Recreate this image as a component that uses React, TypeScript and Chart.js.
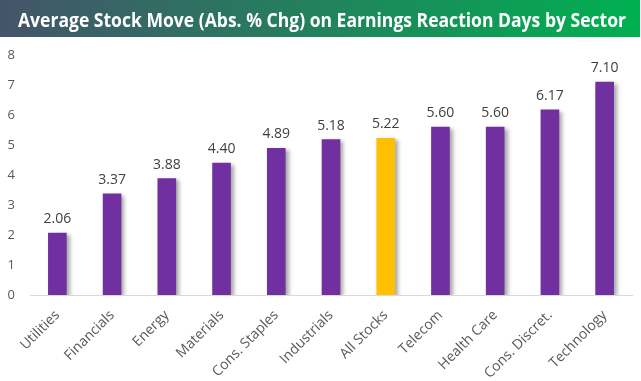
import React, { useEffect, useRef } from "react";
import { Chart, registerables } from "chart.js";
Chart.register(...registerables);

const titleText = "Average Stock Move (Abs. % Chg) on Earnings Reaction Days by Sector";
const categories = [
  "Utilities",
  "Financials",
  "Energy",
  "Materials",
  "Cons. Staples",
  "Industrials",
  "All Stocks",
  "Telecom",
  "Health Care",
  "Cons. Discret.",
  "Technology",
];
const avgMove = [2.06, 3.37, 3.88, 4.4, 4.89, 5.18, 5.22, 5.6, 5.6, 6.17, 7.1];
const yTicks = [0, 1, 2, 3, 4, 5, 6, 7, 8];
const highlightCategory = "All Stocks";

const PURPLE = "#7030A0";
const GOLD = "#FFC000";
const FONT = "'Open Sans', 'DejaVu Sans', sans-serif";

const titlePlugin = {
  id: "bannerTitle",
  beforeDraw(chart: any) {
    const ctx = chart.ctx as CanvasRenderingContext2D;
    ctx.save();
    const g = ctx.createLinearGradient(0, 0, 640, 0);
    g.addColorStop(0, "#44546A");
    g.addColorStop(1, "#00B050");
    ctx.fillStyle = g;
    ctx.fillRect(0, 0, 640, 37);
    ctx.font = `bold 19px ${FONT}`;
    const w = ctx.measureText(titleText).width;
    const target = 608;
    const sx = target / w;
    ctx.fillStyle = "#FFFFFF";
    ctx.textAlign = "center";
    ctx.textBaseline = "alphabetic";
    ctx.translate(322, 27);
    ctx.scale(sx, 1);
    ctx.fillText(titleText, 0, 0);
    ctx.restore();
  },
};

const shadowPlugin = {
  id: "barShadow",
  beforeDatasetDraw(chart: any) {
    const ctx = chart.ctx as CanvasRenderingContext2D;
    ctx.save();
    ctx.shadowColor = "rgba(0,0,0,0.35)";
    ctx.shadowBlur = 4;
    ctx.shadowOffsetX = 3;
    ctx.shadowOffsetY = 2;
  },
  afterDatasetDraw(chart: any) {
    chart.ctx.restore();
  },
};

const valueLabelPlugin = {
  id: "valueLabels",
  afterDatasetsDraw(chart: any) {
    const ctx = chart.ctx as CanvasRenderingContext2D;
    const meta = chart.getDatasetMeta(0);
    ctx.save();
    ctx.font = `14px ${FONT}`;
    ctx.fillStyle = "#404040";
    ctx.textAlign = "center";
    ctx.textBaseline = "alphabetic";
    meta.data.forEach((el: any, i: number) => {
      const v = chart.data.datasets[0].data[i] as number;
      ctx.fillText(v.toFixed(2), el.x, el.y - 10);
    });
    ctx.restore();
  },
};

export default function App() {
  const ref = useRef<HTMLCanvasElement | null>(null);
  useEffect(() => {
    if (!ref.current) return;
    const chart = new Chart(ref.current, {
      type: "bar",
      data: {
        labels: categories,
        datasets: [
          {
            data: avgMove,
            backgroundColor: categories.map((c) => (c === highlightCategory ? GOLD : PURPLE)),
            barThickness: 18,
          },
        ],
      },
      options: {
        animation: false,
        responsive: false,
        devicePixelRatio: 1,
        layout: { padding: { top: 55, right: 9, left: 0, bottom: 0 } },
        plugins: {
          legend: { display: false },
          tooltip: { enabled: false },
          title: { display: false },
        },
        scales: {
          x: {
            grid: { display: false, drawTicks: false },
            border: { display: true, color: "#D9D9D9", width: 1 },
            ticks: {
              color: "#595959",
              font: { family: FONT, size: 14 },
              minRotation: 45,
              maxRotation: 45,
              padding: 12,
              autoSkip: false,
            },
            afterFit(scale: any) {
              scale.height = 86;
            },
          },
          y: {
            min: 0,
            max: 8,
            grid: { display: false, drawTicks: false },
            border: { display: false },
            ticks: {
              color: "#595959",
              font: { family: FONT, size: 13 },
              padding: 15,
            },
            afterBuildTicks(scale: any) {
              scale.ticks = yTicks.map((v) => ({ value: v }));
            },
            afterFit(scale: any) {
              scale.width = 30;
            },
          },
        },
      },
      plugins: [titlePlugin, shadowPlugin, valueLabelPlugin],
    });
    return () => chart.destroy();
  }, []);
  return (
    <div style={{ position: "absolute", left: 0, top: 0, width: 641, height: 381, background: "#fff" }}>
      <canvas ref={ref} width={641} height={381} />
    </div>
  );
}
